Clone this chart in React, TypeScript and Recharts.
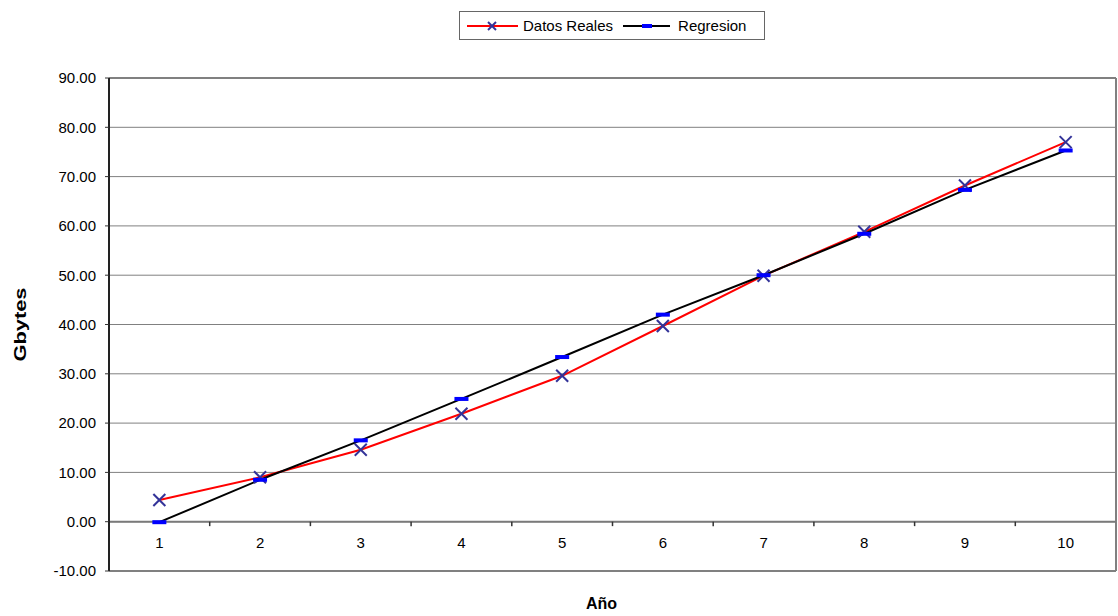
import React from 'react';
import { LineChart, Line, XAxis, YAxis, CartesianGrid, ReferenceLine, Label } from 'recharts';

// Años y capacidad en Gbytes
const years = [1, 2, 3, 4, 5, 6, 7, 8, 9, 10];
const realData = [4.4, 9.0, 14.6, 21.9, 29.6, 39.7, 49.9, 58.8, 68.2, 77.0];
const regressionData = [-0.1, 8.5, 16.5, 24.9, 33.4, 42.0, 50.0, 58.4, 67.3, 75.3];
const yTicks = [-10, 0, 10, 20, 30, 40, 50, 60, 70, 80, 90];

const Y_MIN = -10;
const Y_MAX = 90;
const WIDTH = 1118;
const HEIGHT = 616;
const MARGIN = { top: 78, right: 2, bottom: 0, left: 0 };
const X_AXIS_H = 45;
const PLOT_H = HEIGHT - MARGIN.top - X_AXIS_H;
// y pixel of the value 0, where the category labels sit
const ZERO_Y = MARGIN.top + (PLOT_H * (Y_MAX - 0)) / (Y_MAX - Y_MIN);

const FONT = '"Liberation Sans", Arial, sans-serif';

const data = years.map((year, i) => ({ year, real: realData[i], regresion: regressionData[i] }));

function CrossDot(props: any) {
    const { cx, cy } = props;
    if (cx == null || cy == null) return null;
    const s = 6;
    return (
        <g stroke="#333399" strokeWidth={2}>
            <line x1={cx - s} y1={cy - s} x2={cx + s} y2={cy + s} />
            <line x1={cx - s} y1={cy + s} x2={cx + s} y2={cy - s} />
        </g>
    );
}

function DashDot(props: any) {
    const { cx, cy } = props;
    if (cx == null || cy == null) return null;
    return <rect x={cx - 7} y={cy - 2} width={14} height={4} fill="#0000ff" />;
}

function YearTick(props: any) {
    const { x, payload } = props;
    return (
        <text x={x} y={ZERO_Y + 21} dy="0.355em" textAnchor="middle" fill="#000" fontSize={15} fontFamily={FONT}>
            {payload.value}
        </text>
    );
}

function ChartLegend() {
    const item = { display: 'flex', alignItems: 'center' } as const;
    return (
        <div
            style={{
                position: 'absolute',
                left: 459,
                top: 11,
                width: 306,
                border: '1px solid #666',
                height: 29,
                boxSizing: 'border-box',
                display: 'flex',
                alignItems: 'center',
                padding: '0 0 0 7px',
                fontFamily: FONT,
                fontSize: 15,
                color: '#000',
                background: '#fff',
            }}
        >
            <div style={item}>
                <svg width={51} height={14}>
                    <line x1={0} y1={7} x2={51} y2={7} stroke="#ff0000" strokeWidth={2} />
                    <line x1={21} y1={3} x2={29} y2={11} stroke="#333399" strokeWidth={2} />
                    <line x1={21} y1={11} x2={29} y2={3} stroke="#333399" strokeWidth={2} />
                </svg>
                <span style={{ marginLeft: 5 }}>Datos Reales</span>
            </div>
            <div style={{ ...item, marginLeft: 10 }}>
                <svg width={47} height={14}>
                    <line x1={0} y1={7} x2={47} y2={7} stroke="#000" strokeWidth={2} />
                    <rect x={19} y={5} width={10} height={4} fill="#0000ff" />
                </svg>
                <span style={{ marginLeft: 8 }}>Regresion</span>
            </div>
        </div>
    );
}

export default function App() {
    return (
        <div style={{ position: 'absolute', left: 0, top: 0, width: WIDTH, height: HEIGHT, background: '#fff' }}>
            <LineChart width={WIDTH} height={HEIGHT} data={data} margin={MARGIN} style={{ fontFamily: FONT }}>
                <CartesianGrid horizontal vertical={false} stroke="#808080" strokeOpacity={1} />
                <XAxis
                    type="number"
                    dataKey="year"
                    domain={[0.5, 10.5]}
                    ticks={years}
                    axisLine={false}
                    tickLine={false}
                    tick={<YearTick />}
                    height={X_AXIS_H}
                    interval={0}
                >
                    <Label value="Año" position="insideBottom" offset={7} dx={-11} fill="#000" fontSize={16} fontWeight="bold" />
                </XAxis>
                <YAxis
                    type="number"
                    domain={[Y_MIN, Y_MAX]}
                    ticks={yTicks}
                    interval={0}
                    width={109}
                    tickFormatter={(v: number) => v.toFixed(2)}
                    tick={{ fill: '#000', fontSize: 15 }}
                    tickSize={4}
                    tickMargin={9}
                    tickLine={{ stroke: '#333' }}
                    axisLine={{ stroke: '#222', strokeWidth: 2 }}
                    label={{
                        content: () => (
                            <text
                                x={20}
                                y={MARGIN.top + PLOT_H / 2}
                                transform={`rotate(-90 20 ${MARGIN.top + PLOT_H / 2})`}
                                textAnchor="middle"
                                dominantBaseline="central"
                                fontSize={16}
                                fontWeight="bold"
                                fontFamily={FONT}
                                textLength={74}
                                lengthAdjust="spacingAndGlyphs"
                                fill="#000"
                            >
                                Gbytes
                            </text>
                        ),
                    }}
                />
                <ReferenceLine x={10.5} stroke="#808080" strokeWidth={2} />
                <ReferenceLine y={Y_MIN} stroke="#808080" strokeWidth={2} />
                <ReferenceLine y={Y_MAX} stroke="#808080" strokeWidth={2} />
                <ReferenceLine y={0} stroke="#7a7a7a" strokeWidth={2} />
                {years.slice(0, -1).map((y) => (
                    <ReferenceLine
                        key={y}
                        segment={[{ x: y + 0.5, y: 0 }, { x: y + 0.5, y: -0.9 }]}
                        stroke="#333"
                        strokeWidth={1.5}
                    />
                ))}
                <Line
                    type="linear"
                    dataKey="real"
                    name="Datos Reales"
                    stroke="#ff0000"
                    strokeWidth={2}
                    dot={<CrossDot />}
                    activeDot={false}
                    isAnimationActive={false}
                />
                <Line
                    type="linear"
                    dataKey="regresion"
                    name="Regresion"
                    stroke="#000"
                    strokeWidth={2}
                    dot={<DashDot />}
                    activeDot={false}
                    isAnimationActive={false}
                />
            </LineChart>
            <ChartLegend />
        </div>
    );
}
